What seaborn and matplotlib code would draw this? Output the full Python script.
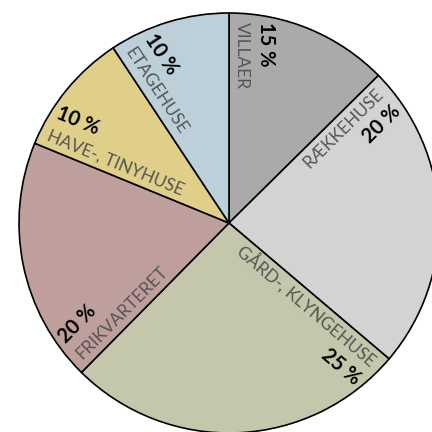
import numpy as np
import matplotlib
matplotlib.use("Agg")
import matplotlib.pyplot as plt
import seaborn as sns

categories = ["VILLAER", "RÆKKEHUSE", "GÅRD-, KLYNGEHUSE", "FRIKVARTERET", "HAVE-, TINYHUSE", "ETAGEHUSE"]
values = [12.6, 23.6, 26.2, 18.8, 9.5, 9.3]
pct_labels = ["15 %", "20 %", "25 %", "20 %", "10 %", "10 %"]
colors = ["#aaaaaa", "#d3d3d3", "#c4c7ab", "#bf9f9c", "#dfcf88", "#bdcfd8"]

sns.set_style("white")
plt.rcParams['font.family'] = ['Lato', 'DejaVu Sans']

fig = plt.figure(figsize=(4.32, 4.32), dpi=100)
ax = fig.add_axes([0, 0, 1, 1])
ax.pie(values, colors=sns.color_palette(colors), startangle=90, counterclock=False,
       wedgeprops=dict(edgecolor="black", linewidth=1.2), radius=1.0)

scale = 210.0
xmin = -229 / scale
ymin = -209 / scale
span = 432 / scale
ax.set_xlim(xmin, xmin + span)
ax.set_ylim(ymin, ymin + span)
ax.set_aspect('equal')
ax.axis('off')

total = sum(values)
start = 90.0
r_out = 0.955
d_name = 0.06
d_pct = 0.175
for cat, v, pl in zip(categories, values, pct_labels):
    th = np.deg2rad(start)
    u = np.array([np.cos(th), np.sin(th)])
    p = np.array([np.sin(th), -np.cos(th)])
    if np.cos(th) > 0.01:
        rot = start
        ha = 'right'
    else:
        rot = start - 180
        ha = 'left'
    pos_n = r_out * u + d_name * p
    pos_p = r_out * u + d_pct * p
    ax.text(pos_n[0], pos_n[1], cat, rotation=rot, rotation_mode='anchor',
            ha=ha, va='center', fontsize=12.5, color='#555555', fontweight='normal')
    ax.text(pos_p[0], pos_p[1], pl, rotation=rot, rotation_mode='anchor',
            ha=ha, va='center', fontsize=14.5, color='black', fontweight='bold')
    start -= v / total * 360.0

fig.savefig("out.png", dpi=100)
